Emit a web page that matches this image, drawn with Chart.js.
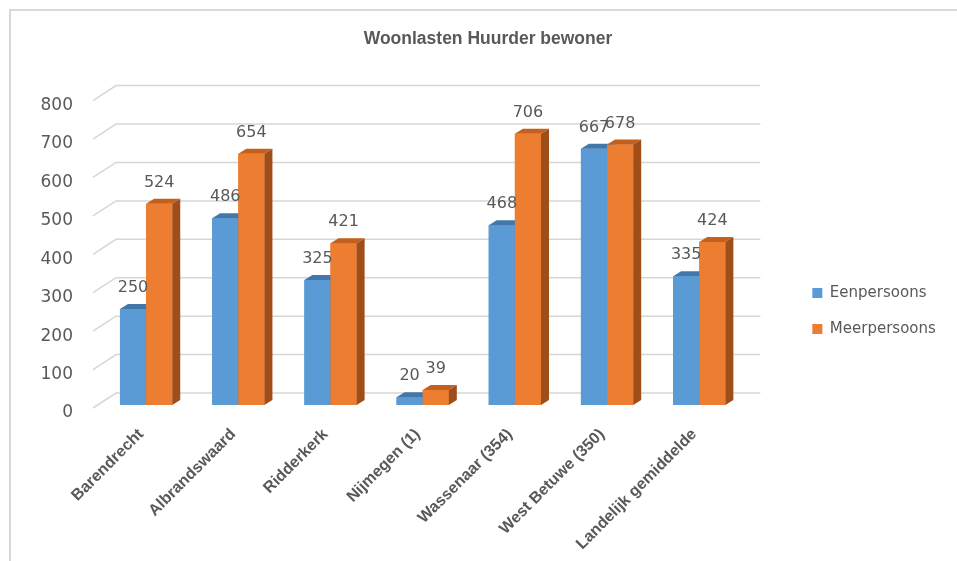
<!DOCTYPE html>
<html>
<head>
<meta charset="utf-8">
<script src="https://cdn.jsdelivr.net/npm/chart.js@4.4.1/dist/chart.umd.min.js"></script>
<style>
  body { margin: 0; background: #fff; }
</style>
</head>
<body>
<canvas id="woonlasten" width="957" height="561"></canvas>
<script>
var gemeenten = ['Barendrecht', 'Albrandswaard', 'Ridderkerk', 'Nijmegen (1)', 'Wassenaar (354)', 'West Betuwe (350)', 'Landelijk gemiddelde'];
var eenpersoons = [250, 486, 325, 20, 468, 667, 335];
var meerpersoons = [524, 654, 421, 39, 706, 678, 424];
var yTicks = [0, 100, 200, 300, 400, 500, 600, 700, 800];

var grijs = '#595959';
// kleuren van de bovenkant en zijkant (3D effect)
var kleurBoven = ['#4377aa', '#c4601e'];
var kleurZij = ['#3d6c9a', '#9f4e1a'];
var diepteX = 8, diepteY = 5;

// lichtgrijze rand links en boven
var rand = {
  id: 'rand',
  beforeDraw: function (chart) {
    var ctx = chart.ctx;
    ctx.save();
    ctx.strokeStyle = '#d9d9d9';
    ctx.lineWidth = 2;
    ctx.beginPath();
    ctx.moveTo(10, chart.height);
    ctx.lineTo(10, 10);
    ctx.lineTo(chart.width, 10);
    ctx.stroke();
    ctx.restore();
  }
};

var balken3d = {
  id: 'balken3d',
  beforeDatasetsDraw: function (chart) {
    // rasterlijnen op de achterwand + schuine lijnen op de zijwand
    var ctx = chart.ctx, y = chart.scales.y, area = chart.chartArea;
    ctx.save();
    ctx.strokeStyle = '#d6d6d6';
    ctx.lineWidth = 1.5;
    y.ticks.forEach(function (t) {
      var py = y.getPixelForValue(t.value);
      ctx.beginPath();
      ctx.moveTo(area.left - 7, py + 3);
      ctx.lineTo(area.left + 16, py - 12);
      ctx.lineTo(area.right + 15, py - 12);
      ctx.stroke();
    });
    ctx.restore();
  },
  afterDatasetsDraw: function (chart) {
    var ctx = chart.ctx;
    ctx.save();
    // opnieuw tekenen in volgorde van de reeksen, met boven- en zijvlak
    chart.data.datasets.forEach(function (ds, i) {
      chart.getDatasetMeta(i).data.forEach(function (bar) {
        var p = bar.getProps(['x', 'y', 'base', 'width'], true);
        var x0 = p.x - p.width / 2, x1 = p.x + p.width / 2;
        bar.draw(ctx);
        ctx.fillStyle = kleurBoven[i];
        ctx.beginPath();
        ctx.moveTo(x0, p.y);
        ctx.lineTo(x0 + diepteX, p.y - diepteY);
        ctx.lineTo(x1 + diepteX, p.y - diepteY);
        ctx.lineTo(x1, p.y);
        ctx.closePath();
        ctx.fill();
        ctx.fillStyle = kleurZij[i];
        ctx.beginPath();
        ctx.moveTo(x1, p.y);
        ctx.lineTo(x1 + diepteX, p.y - diepteY);
        ctx.lineTo(x1 + diepteX, p.base - diepteY);
        ctx.lineTo(x1, p.base);
        ctx.closePath();
        ctx.fill();
      });
    });
    // waardelabels boven de balken
    ctx.font = '16px "DejaVu Sans"';
    ctx.fillStyle = grijs;
    ctx.textAlign = 'center';
    ctx.textBaseline = 'middle';
    chart.data.datasets.forEach(function (ds, i) {
      chart.getDatasetMeta(i).data.forEach(function (bar, j) {
        ctx.fillText(ds.data[j], bar.x, bar.y - 21);
      });
    });
    ctx.restore();
  }
};

var woonlasten = document.getElementById('woonlasten').getContext('2d');

var grafiek = new Chart(woonlasten, {
  type: 'bar',
  data: {
    labels: gemeenten,
    datasets: [{
      label: 'Eenpersoons',
      data: eenpersoons,
      backgroundColor: '#5b9bd5',
      categoryPercentage: 0.567,
      barPercentage: 1
    }, {
      label: 'Meerpersoons',
      data: meerpersoons,
      backgroundColor: '#ed7d31',
      categoryPercentage: 0.567,
      barPercentage: 1
    }]
  },
  options: {
    responsive: false,
    animation: false,
    layout: { padding: { top: 10, left: 33, right: 14, bottom: 4 } },
    plugins: {
      title: {
        display: true,
        text: 'Woonlasten Huurder bewoner',
        color: grijs,
        font: { family: 'Liberation Sans', size: 17.5, weight: 'bold', lineHeight: 1.2 },
        padding: { top: 19, bottom: 47.6 }
      },
      legend: {
        position: 'right',
        // lege titel schuift de legenda iets omlaag
        title: { display: true, text: ' ', font: { size: 12 }, padding: 20.3 },
        labels: {
          boxWidth: 10,
          boxHeight: 10,
          padding: 21,
          color: grijs,
          font: { family: 'DejaVu Sans', size: 15 }
        }
      },
      tooltip: { enabled: false }
    },
    scales: {
      x: {
        grid: { display: false, drawTicks: false },
        border: { display: false },
        ticks: {
          autoSkip: false,
          minRotation: 45,
          maxRotation: 45,
          padding: 20,
          labelOffset: -5,
          color: grijs,
          font: { family: 'Liberation Sans', size: 16, weight: 'bold' }
        },
        afterFit: function (s) { s.height = 152; }
      },
      y: {
        min: 0,
        max: 800,
        grid: { display: false, drawTicks: false },
        border: { display: false },
        ticks: {
          padding: 27,
          labelOffset: 8,
          color: grijs,
          font: { family: 'DejaVu Sans', size: 17 }
        },
        afterBuildTicks: function (s) {
          s.ticks = yTicks.map(function (v) { return { value: v }; });
        },
        afterFit: function (s) { s.width = 67; }
      },
      ruimte: {
        position: 'right',
        grid: { display: false, drawTicks: false },
        border: { display: false },
        ticks: { display: false },
        afterFit: function (s) { s.width = 46; }
      }
    }
  },
  plugins: [rand, balken3d]
});
</script>
</body>
</html>
